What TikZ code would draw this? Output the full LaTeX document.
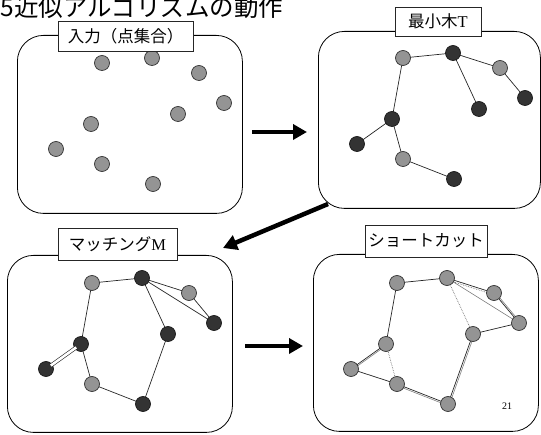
\documentclass[tikz,border=0pt]{standalone}
\usepackage{fontspec}
\setmainfont{Noto Sans CJK JP}
\newfontfamily\serifT{Liberation Serif}
\usetikzlibrary{arrows.meta}
\begin{document}
\begin{tikzpicture}[x=1pt,y=-1pt,
  panel/.style={draw, line width=0.8pt, rounded corners=26pt, inner sep=0pt, anchor=north west},
  lbl/.style={draw=black!85, fill=white, line width=0.6pt, minimum height=30pt, inner sep=0pt,
    font=\fontsize{16.5pt}{18pt}\selectfont},
  gd/.style={circle, draw=black!80, line width=0.7pt, fill=black!42, minimum size=15pt, inner sep=0pt},
  dk/.style={circle, draw=black!90, line width=0.7pt, fill=black!80, minimum size=15pt, inner sep=0pt},
  edge/.style={line width=0.7pt, black!85},
  ghost/.style={line width=0.6pt, black!50},
  ghostdot/.style={line width=0.7pt, black!55, densely dotted},
  bigarrow/.style={line width=4.5pt, -{Triangle[length=14pt,width=15pt]}}
]
\useasboundingbox (0,0) rectangle (541,435);
\clip (0,0) rectangle (541,435);

% title
\node[anchor=base west, inner sep=0pt, font=\fontsize{24.5pt}{26pt}\selectfont] (title) at (0.5,16.5) {5近似アルゴリズムの動作};

% panels
\node[panel, minimum width=225pt, minimum height=178pt] (pan1) at (17,35) {};
\node[panel, minimum width=222pt, minimum height=177pt] (pan2) at (318,31) {};
\node[panel, minimum width=225pt, minimum height=177pt] (pan3) at (7,255) {};
\node[panel, minimum width=225pt, minimum height=177pt] (pan4) at (313,254) {};

% panel 1 : input points
\foreach \n/\x/\y in {1/102/63, 2/152/58, 3/199/73, 4/224/103, 5/178/114, 6/91/124, 7/56/149, 8/102/164, 9/153/184}
  \node[gd] (a\n) at (\x,\y) {};

% panel 2 : minimum spanning tree
\begin{scope}[shift={(301,-5)}]
\foreach \n/\x/\y in {1/102/63, 2/152/58, 3/199/73, 4/224/103, 5/178/114, 6/91/124, 7/56/149, 8/102/164, 9/153/184}
  \coordinate (bp\n) at (\x,\y);
\end{scope}
\foreach \u/\v in {1/2, 2/3, 3/4, 2/5, 1/6, 6/7, 6/8, 8/9}
  \draw[edge] (bp\u) -- (bp\v);
\begin{scope}[shift={(301,-5)}]
\foreach \n/\x/\y/\s in {1/102/63/gd, 2/152/58/dk, 3/199/73/gd, 4/224/103/dk, 5/178/114/dk, 6/91/124/dk, 7/56/149/dk, 8/102/164/gd, 9/153/184/dk}
  \node[\s] (b\n) at (\x,\y) {};
\end{scope}

% panel 3 : matching
\begin{scope}[shift={(-10,220)}]
\foreach \n/\x/\y in {1/102/63, 2/152/58, 3/199/73, 4/224/103, 5/178/114, 6/91/124, 7/56/149, 8/102/164, 9/153/184}
  \coordinate (cp\n) at (\x,\y);
\end{scope}
\foreach \u/\v in {1/2, 2/3, 3/4, 2/5, 1/6, 6/8, 8/9, 2/4, 5/9}
  \draw[edge] (cp\u) -- (cp\v);
\begin{scope}[shift={(-10,220)}]
\foreach \n/\x/\y/\s in {1/102/63/gd, 2/152/58/dk, 3/199/73/gd, 4/224/103/dk, 5/178/114/dk, 6/91/124/dk, 7/56/149/dk, 8/102/164/gd, 9/153/184/dk}
  \node[\s] (c\n) at (\x,\y) {};
\end{scope}
\draw[edge, double=white, double distance=2.6pt, line width=0.6pt, shorten <=-2pt, shorten >=-2pt] (c6) -- (c7);

% panel 4 : shortcut
\begin{scope}[shift={(295,220)}]
\foreach \n/\x/\y in {1/102/63, 2/152/58, 3/199/73, 4/224/103, 5/178/114, 6/91/124, 7/56/149, 8/102/164, 9/153/184}
  \coordinate (ep\n) at (\x,\y);
\end{scope}
\draw[ghost] (ep2) -- (ep4);
\draw[ghostdot] (ep2) -- (ep5);
\draw[ghostdot] (ep6) -- (ep8);
\draw[ghostdot] ([yshift=-1.8pt]ep2) -- ([yshift=-1.8pt]ep3);
\draw[ghost] ([xshift=1.8pt]ep3) -- ([xshift=1.8pt]ep4);
\draw[ghost] ([xshift=1.6pt]ep5) -- ([xshift=1.6pt]ep9);
\draw[ghost] ([yshift=-1.6pt]ep9) -- ([yshift=-1.6pt]ep8);
\draw[ghost] ([yshift=-1.6pt]ep7) -- ([yshift=-1.6pt]ep6);
\foreach \u/\v in {1/2, 2/3, 3/4, 4/5, 5/9, 9/8, 8/7, 7/6, 6/1}
  \draw[edge] (ep\u) -- (ep\v);
\begin{scope}[shift={(295,220)}]
\foreach \n/\x/\y in {1/102/63, 2/152/58, 3/199/73, 4/224/103, 5/178/114, 6/91/124, 7/56/149, 8/102/164, 9/153/184}
  \node[gd] (e\n) at (\x,\y) {};
\end{scope}

% labels
\node[lbl, minimum width=135pt] (lab1) at (125.5,36) {入力（点集合）};
\node[lbl, minimum width=86pt, minimum height=29pt] (lab2) at (438,21.5) {最小木{\serifT T}};
\node[lbl, minimum width=119pt, minimum height=32pt] (lab3) at (117.5,244) {マッチング{\serifT M}};
\node[lbl, minimum width=122pt, minimum height=32pt] (lab4) at (426,241) {ショートカット};

% page number
\node[font=\serifT\fontsize{10pt}{12pt}\selectfont, inner sep=0pt] (pnum) at (507,406) {21};

% arrows
\coordinate (r1s) at (252,132); \coordinate (r1e) at (307,132);
\coordinate (r2s) at (328,204); \coordinate (r2e) at (223,248);
\coordinate (r3s) at (245,346); \coordinate (r3e) at (303,346);
\draw[bigarrow] (r1s) -- (r1e);
\draw[bigarrow] (r2s) -- (r2e);
\draw[bigarrow] (r3s) -- (r3e);
\end{tikzpicture}
\end{document}
